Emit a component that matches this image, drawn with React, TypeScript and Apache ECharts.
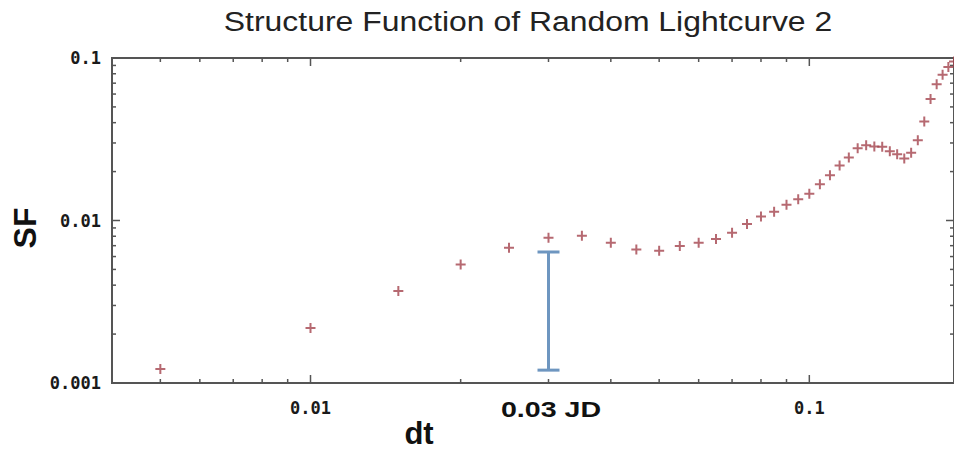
import React, { useEffect, useRef } from "react";
import * as echarts from "echarts";

// ---- data ----
const dtValues = [
  0.005, 0.01, 0.015, 0.02, 0.025, 0.03, 0.035, 0.04, 0.045, 0.05,
  0.055, 0.06, 0.065, 0.07, 0.075, 0.08, 0.085, 0.09, 0.095, 0.1,
  0.105, 0.11, 0.115, 0.12, 0.125, 0.13, 0.135, 0.14, 0.145, 0.15,
  0.155, 0.16, 0.165, 0.17, 0.175, 0.18, 0.185, 0.19, 0.195,
];
const sfValues = [
  0.00122, 0.00218, 0.00368, 0.00537, 0.00679, 0.00783, 0.00805, 0.0073, 0.00664, 0.00651,
  0.00696, 0.0073, 0.0077, 0.0084, 0.0095, 0.0106, 0.0113, 0.0125, 0.0135, 0.0146,
  0.0167, 0.019, 0.0218, 0.0244, 0.0278, 0.029, 0.0285, 0.0284, 0.0267, 0.0256,
  0.0241, 0.0261, 0.0312, 0.0407, 0.056, 0.0689, 0.079, 0.088, 0.095,
];
const xMajorTicks = [0.01, 0.1];
const xMinorTicks = [0.005, 0.006, 0.007, 0.008, 0.009, 0.02, 0.03, 0.04, 0.05, 0.06, 0.07, 0.08, 0.09];
const yMajorTicks = [0.001, 0.01, 0.1];
const yMinorTicks = [
  0.002, 0.003, 0.004, 0.005, 0.006, 0.007, 0.008, 0.009,
  0.02, 0.03, 0.04, 0.05, 0.06, 0.07, 0.08, 0.09,
];
const errorBarX = 0.03;
const errorBarLow = 0.0012;
const errorBarHigh = 0.0064;

const titleText = "Structure Function of Random Lightcurve 2";
const xAxisTitle = "dt";
const yAxisTitle = "SF";
const annotationText = "0.03 JD";

const FRAME = "#555555";
const MAJOR_LEN = 8;
const MINOR_LEN = 4;

export default function App() {
  const ref = useRef<HTMLDivElement | null>(null);

  useEffect(() => {
    if (!ref.current) return;
    const chart = echarts.init(ref.current, undefined, { renderer: "svg" });

    const labelFmt = (v: number) => {
      const lg = Math.log10(v);
      if (Math.abs(lg - Math.round(lg)) < 1e-6) return String(+v.toPrecision(3));
      return "";
    };

    const xTickData = [
      ...xMajorTicks.map((v) => [v, MAJOR_LEN, 0.01]),
      ...xMinorTicks.map((v) => [v, MINOR_LEN, 0.01]),
    ];
    const yTickData = [
      ...yMajorTicks.map((v) => [0.01, MAJOR_LEN, v]),
      ...yMinorTicks.map((v) => [0.01, MINOR_LEN, v]),
    ];

    const option: any = {
      animation: false,
      backgroundColor: "#ffffff",
      grid: {
        left: 112,
        right: -1,
        top: 58,
        bottom: 67,
        show: true,
        borderColor: FRAME,
        borderWidth: 2,
        backgroundColor: "transparent",
      },
      xAxis: {
        type: "log",
        min: 0.004,
        max: 0.195,
        axisLine: { show: true, lineStyle: { color: FRAME, width: 2 } },
        axisTick: { show: false },
        splitLine: { show: false },
        minorTick: { show: false },
        axisLabel: {
          formatter: labelFmt,
          margin: 16,
          fontFamily: "DejaVu Sans Mono",
          fontWeight: "bold",
          fontSize: 17,
          color: "#1a1a1a",
          showMinLabel: false,
          showMaxLabel: false,
        },
      },
      yAxis: {
        type: "log",
        min: 0.001,
        max: 0.1,
        axisLine: { show: true, lineStyle: { color: FRAME, width: 2 } },
        axisTick: { show: false },
        splitLine: { show: false },
        axisLabel: {
          formatter: labelFmt,
          margin: 11,
          fontFamily: "DejaVu Sans Mono",
          fontWeight: "bold",
          fontSize: 17,
          color: "#1a1a1a",
        },
      },
      series: [
        {
          type: "custom",
          name: "xticks",
          encode: { x: 0, y: 2 },
          data: xTickData,
          silent: true,
          renderItem: (params: any, api: any) => {
            const cs = params.coordSys;
            const px = api.coord([api.value(0), api.value(2)])[0];
            const len = api.value(1);
            const st = { stroke: FRAME, lineWidth: 1.5 };
            return {
              type: "group",
              children: [
                { type: "line", shape: { x1: px, y1: cs.y + cs.height, x2: px, y2: cs.y + cs.height - len }, style: st },
                { type: "line", shape: { x1: px, y1: cs.y, x2: px, y2: cs.y + len }, style: st },
              ],
            };
          },
        },
        {
          type: "custom",
          name: "yticks",
          encode: { x: 0, y: 2 },
          data: yTickData,
          silent: true,
          renderItem: (params: any, api: any) => {
            const cs = params.coordSys;
            const py = api.coord([api.value(0), api.value(2)])[1];
            const len = api.value(1);
            const st = { stroke: FRAME, lineWidth: 1.5 };
            return {
              type: "group",
              children: [
                { type: "line", shape: { x1: cs.x, y1: py, x2: cs.x + len, y2: py }, style: st },
                { type: "line", shape: { x1: cs.x + cs.width, y1: py, x2: cs.x + cs.width - len, y2: py }, style: st },
              ],
            };
          },
        },
        {
          type: "custom",
          name: "errorbar",
          data: [[errorBarX, errorBarLow, errorBarHigh]],
          encode: { x: 0, y: [1, 2] },
          renderItem: (params: any, api: any) => {
            const lo = api.coord([api.value(0), api.value(1)]);
            const hi = api.coord([api.value(0), api.value(2)]);
            const half = 11;
            const st = { stroke: "#6e96c0", lineWidth: 3 };
            return {
              type: "group",
              children: [
                { type: "line", shape: { x1: hi[0], y1: hi[1], x2: lo[0], y2: lo[1] }, style: st },
                { type: "line", shape: { x1: hi[0] - half, y1: hi[1], x2: hi[0] + half, y2: hi[1] }, style: st },
                { type: "line", shape: { x1: lo[0] - half, y1: lo[1], x2: lo[0] + half, y2: lo[1] }, style: st },
              ],
            };
          },
        },
        {
          type: "scatter",
          name: "SF",
          data: dtValues.map((x, i) => [x, sfValues[i]]),
          symbol: "path://M4,0H6V4H10V6H6V10H4V6H0V4H4Z",
          symbolSize: 10,
          itemStyle: { color: "#a4444d" },
          clip: false,
        },
      ],
      graphic: [
        {
          type: "text",
          x: 528,
          y: 21,
          scaleX: 1.14,
          style: {
            text: titleText,
            font: "normal 28px 'Liberation Sans', Arial, sans-serif",
            fill: "#222",
            textAlign: "center",
            textVerticalAlign: "middle",
          },
        },
        {
          type: "text",
          x: 419,
          y: 433,
          style: {
            text: xAxisTitle,
            font: "bold 31px 'Liberation Sans', Arial, sans-serif",
            fill: "#111",
            textAlign: "center",
            textVerticalAlign: "middle",
          },
        },
        {
          type: "text",
          x: 551,
          y: 409,
          scaleX: 1.3,
          style: {
            text: annotationText,
            font: "bold 22px 'Liberation Sans', Arial, sans-serif",
            fill: "#111",
            textAlign: "center",
            textVerticalAlign: "middle",
          },
        },
        {
          type: "text",
          x: 25,
          y: 228,
          rotation: Math.PI / 2,
          style: {
            text: yAxisTitle,
            font: "bold 32px 'Liberation Sans', Arial, sans-serif",
            fill: "#111",
            textAlign: "center",
            textVerticalAlign: "middle",
          },
        },
      ],
    };

    chart.setOption(option);
    return () => chart.dispose();
  }, []);

  return (
    <div
      ref={ref}
      style={{ position: "fixed", left: 0, top: 0, width: 954, height: 450, background: "#fff" }}
    />
  );
}
